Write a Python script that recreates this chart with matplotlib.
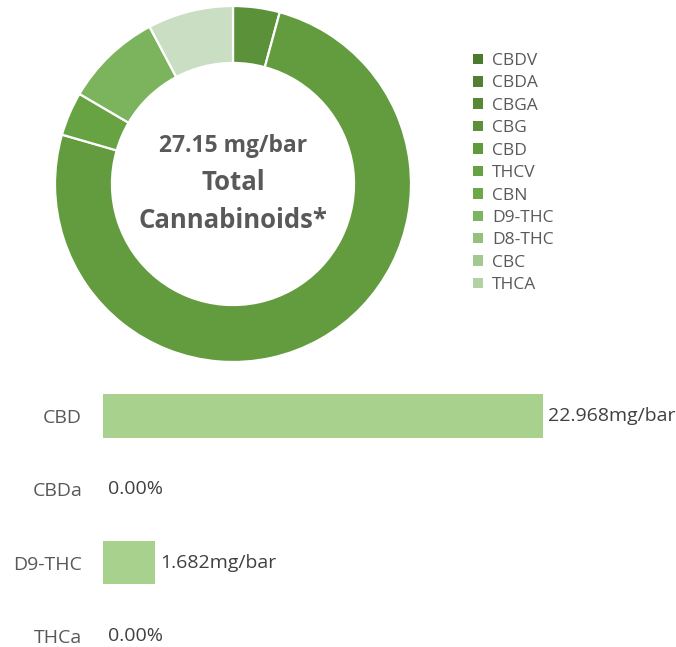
import matplotlib
matplotlib.use("Agg")
import matplotlib.pyplot as plt
from matplotlib.patches import Patch

W, H = 676, 647
DPI = 100

# ---- data ----
legend_names = ["CBDV", "CBDA", "CBGA", "CBG", "CBD", "THCV", "CBN",
                "D9-THC", "D8-THC", "CBC", "THCA"]
legend_colors = ["#4b7a2c", "#527f31", "#578934", "#5c9139", "#619a3d",
                 "#66a241", "#6ba946", "#7db45f", "#93c17b", "#a2c992", "#b2d1a5"]
pie_names = ["CBG", "CBD", "THCV", "D9-THC", "THCA"]
pie_values = [1.15, 20.45, 1.08, 2.39, 2.11]
pie_colors = ["#5b9239", "#639c3f", "#67a342", "#7cb45e", "#cadec3"]
total_text = "27.15"

bar_names = ["CBD", "CBDa", "D9-THC", "THCa"]
bar_lengths = [22.968, 0.0, 2.71, 0.0]
bar_labels = ["22.968mg/bar", "0.00%", "1.682mg/bar", "0.00%"]

FONT = ["Open Sans", "DejaVu Sans"]
GRAY = "#595959"

fig = plt.figure(figsize=(W / DPI, H / DPI), dpi=DPI)

def px_axes(left, top, width, height):
    return fig.add_axes([left / W, (H - top - height) / H, width / W, height / H])

# ---- donut ----
cx, cy, r = 233, 184, 178
axp = px_axes(cx - r, cy - r, 2 * r, 2 * r)
axp.pie(pie_values, colors=pie_colors, startangle=90, counterclock=False,
        radius=1.0, wedgeprops=dict(width=0.32, edgecolor="white", linewidth=1.6))
axp.set_xlim(-1, 1)
axp.set_ylim(-1, 1)
axp.set_aspect("equal")
axp.axis("off")

def center_text(y, s, size):
    fig.text(cx / W, 1 - y / H, s, ha="center", va="center", fontsize=size,
             fontweight="bold", color=GRAY, family=FONT)

center_text(146, total_text + " mg/bar", 16.5)
center_text(183, "Total", 18.5)
center_text(221, "Cannabinoids*", 18.5)

# ---- legend ----
handles = [Patch(facecolor=c, edgecolor="none") for c in legend_colors]
leg = fig.legend(handles, legend_names, loc="upper left",
                 bbox_to_anchor=(473 / W, 1 - 53 / H), frameon=False,
                 borderpad=0, borderaxespad=0,
                 handlelength=0.55, handleheight=0.55, handletextpad=0.55,
                 labelspacing=0.37, prop=dict(family=FONT, size=12.5))
for t in leg.get_texts():
    t.set_color(GRAY)

# ---- bars ----
bx0 = 103
bar_px = 440
ax_w = 560
spacing = 73.3
y_top = 416 - 0.5 * spacing
nrows = 3.9
axb = px_axes(bx0, y_top, ax_w, nrows * spacing)
ypos = list(range(len(bar_names)))
axb.barh(ypos, bar_lengths, height=0.59, color="#a9d18e")
axb.set_xlim(0, bar_lengths[0] * ax_w / bar_px)
axb.set_ylim(3.4, -0.5)
axb.set_yticks(ypos)
axb.set_yticklabels(bar_names, family=FONT, fontsize=14, color=GRAY)
axb.tick_params(axis="y", length=0, pad=15)
axb.set_xticks([])
for s in axb.spines.values():
    s.set_visible(False)
for y, v, lab in zip(ypos, bar_lengths, bar_labels):
    axb.annotate(lab, (v, y), xytext=(3.6, 0), textcoords="offset points",
                 va="center", ha="left", fontsize=14, color="#404040", family=FONT)

fig.savefig("out.png", dpi=DPI)
